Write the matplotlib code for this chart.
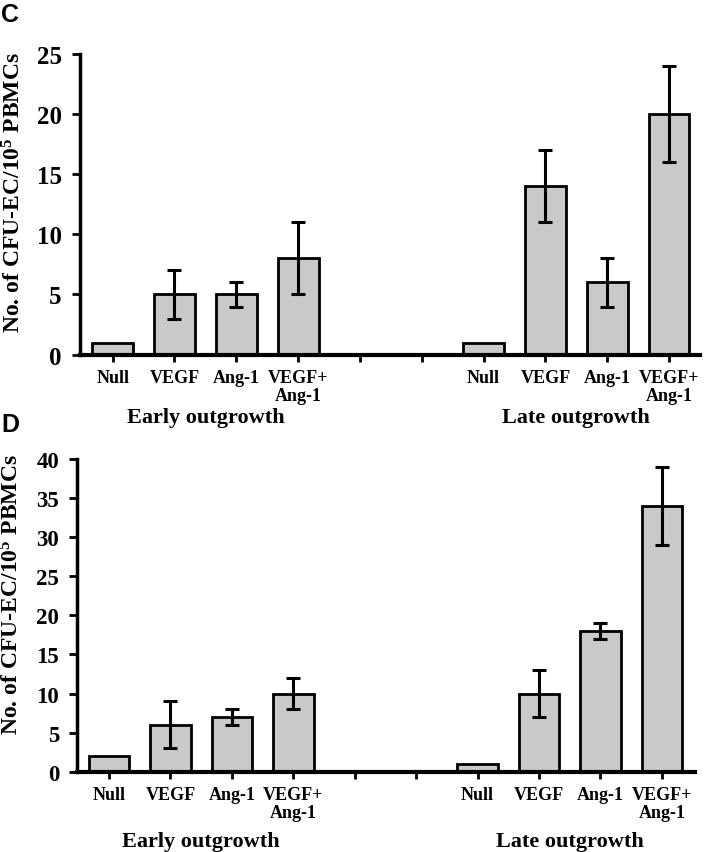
import numpy as np
import matplotlib.pyplot as plt

# category labels and bar slots (two empty slots between the groups)
categories = ["Null", "VEGF", "Ang-1", "VEGF+\nAng-1"]
early_pos = [0, 1, 2, 3]
late_pos = [6, 7, 8, 9]

# panel C values
c_early = [1, 5, 5, 8]
c_early_err = [0, 2, 1, 3]
c_late = [1, 14, 6, 20]
c_late_err = [0, 3, 2, 4]

# panel D values
d_early = [2, 6, 7, 10]
d_early_err = [0, 3, 1, 2]
d_late = [1, 10, 18, 34]
d_late_err = [0, 3, 1, 5]

c_ticks = [0, 5, 10, 15, 20, 25]
d_ticks = [0, 5, 10, 15, 20, 25, 30, 35, 40]

serif = "Liberation Serif"
bar_color = "#c9c9c9"

plt.rcParams["mathtext.fontset"] = "custom"
plt.rcParams["mathtext.rm"] = "Liberation Serif:bold"
plt.rcParams["mathtext.it"] = "Liberation Serif:bold"
plt.rcParams["mathtext.bf"] = "Liberation Serif:bold"
plt.rcParams["mathtext.default"] = "bf"


def draw_panel(ax, early, early_err, late, late_err, yticks, xlim,
               tick_size, group_offset):
    """Draw one panel of grouped bars with error bars."""
    for pos, vals, errs in [(early_pos, early, early_err),
                            (late_pos, late, late_err)]:
        ax.bar(pos, vals, width=0.66, color=bar_color, edgecolor="black",
               linewidth=2, zorder=2)
        for p, v, e in zip(pos, vals, errs):
            if e > 0:
                ax.errorbar(p, v, yerr=e, color="black", capsize=5,
                            elinewidth=2.2, capthick=2.2, zorder=3)

    ax.set_ylim(0, yticks[-1])
    ax.set_xlim(*xlim)
    ax.spines["top"].set_visible(False)
    ax.spines["right"].set_visible(False)
    ax.spines["left"].set_linewidth(2.5)
    ax.spines["bottom"].set_linewidth(3)

    ax.set_yticks(yticks)
    ax.set_yticklabels([str(t) for t in yticks], fontfamily=serif,
                       fontweight="bold", fontsize=tick_size)
    ax.tick_params(axis="y", length=6, width=2, pad=7)

    ax.set_xticks(list(range(10)))
    labels = categories + ["", ""] + categories
    ax.set_xticklabels(labels, fontfamily=serif, fontweight="bold",
                       fontsize=13, linespacing=1.1)
    ax.tick_params(axis="x", length=5, width=2, pad=5)

    ax.set_ylabel("No. of CFU-EC/10$^5$ PBMCs", fontfamily=serif,
                  fontweight="bold", fontsize=17)

    for x, txt in [(1.5, "Early outgrowth"), (7.5, "Late outgrowth")]:
        ax.annotate(txt, xy=(x, 0), xycoords=("data", "axes fraction"),
                    xytext=(0, group_offset), textcoords="offset points",
                    ha="center", va="center", fontfamily=serif,
                    fontweight="bold", fontsize=16)


fig = plt.figure(figsize=(7.07, 8.53), dpi=100)

ax_c = fig.add_axes([0.113, 0.583, 0.877, 0.353])
draw_panel(ax_c, c_early, c_early_err, c_late, c_late_err, c_ticks,
           (-0.53, 9.5), 18, -45)
ax_c.yaxis.set_label_coords(-0.087, 0.54)

ax_d = fig.add_axes([0.109, 0.094, 0.874, 0.367])
draw_panel(ax_d, d_early, d_early_err, d_late, d_late_err, d_ticks,
           (-0.52, 9.54), 16.5, -49.5)
ax_d.yaxis.set_label_coords(-0.087, 0.57)

fig.text(0.002, 0.997, "C", fontfamily="Liberation Sans", fontweight="bold",
         fontsize=18, ha="left", va="top")
fig.text(0.002, 0.516, "D", fontfamily="Liberation Sans", fontweight="bold",
         fontsize=18, ha="left", va="top")

fig.savefig("out.png", dpi=100)
